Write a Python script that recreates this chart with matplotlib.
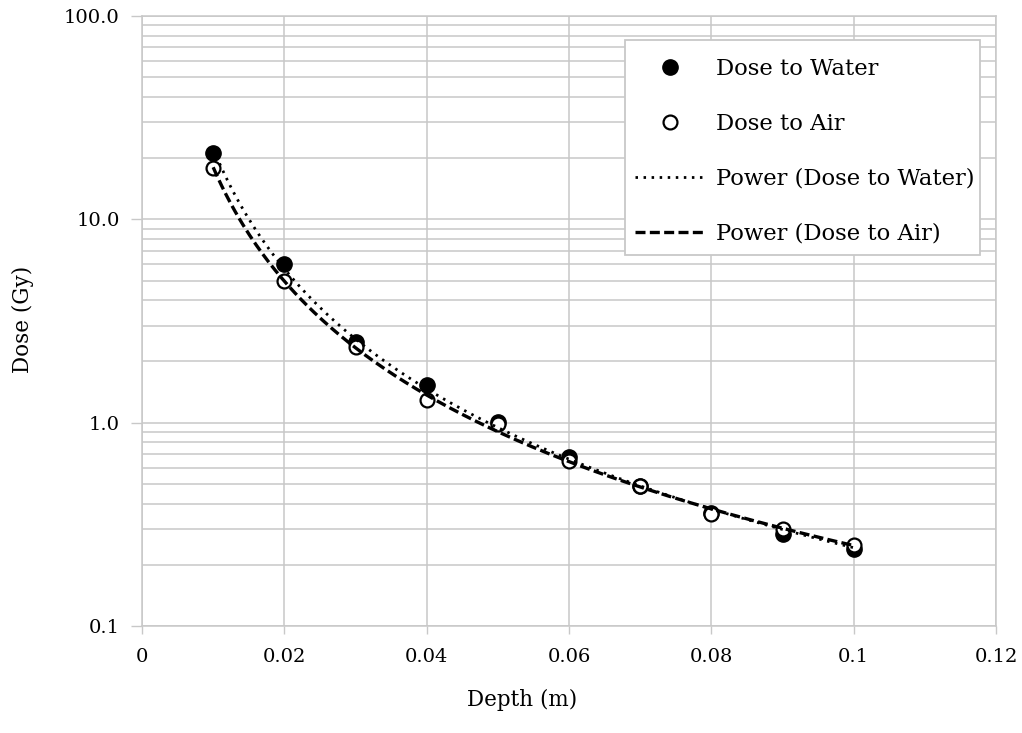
import numpy as np
import matplotlib
matplotlib.use("Agg")
import matplotlib.pyplot as plt
from matplotlib.patches import Rectangle
from matplotlib.ticker import FixedLocator, LogLocator, NullFormatter

# ---- data ----
depth = [0.01, 0.02, 0.03, 0.04, 0.05, 0.06, 0.07, 0.08, 0.09, 0.10]
dose_water = [21.1, 6.0, 2.50, 1.53, 1.01, 0.68, 0.49, 0.36, 0.285, 0.24]
dose_air = [17.8, 5.0, 2.36, 1.29, 0.99, 0.65, 0.49, 0.355, 0.30, 0.25]
x_ticks = [0, 0.02, 0.04, 0.06, 0.08, 0.1, 0.12]
x_tick_labels = ["0", "0.02", "0.04", "0.06", "0.08", "0.1", "0.12"]
y_ticks = [0.1, 1.0, 10.0, 100.0]
y_tick_labels = ["0.1", "1.0", "10.0", "100.0"]

plt.rcParams['font.family'] = ['DejaVu Serif']
GRID = '#c8c8c8'
W, H = 1022, 733

fig = plt.figure(figsize=(W/100, H/100), dpi=100)
ax = fig.add_axes([142/W, 1-626/H, (996-142)/W, (626-16)/H])

ax.set_yscale('log')
ax.set_xlim(0, 0.12)
ax.set_ylim(0.1, 100)

# power trendlines (least-squares fit in log-log space)
def power_fit(x, y):
    b, loga = np.polyfit(np.log(x), np.log(y), 1)
    return np.exp(loga), b

xs = np.linspace(min(depth), max(depth), 300)
aw, bw = power_fit(np.array(depth), np.array(dose_water))
aa, ba = power_fit(np.array(depth), np.array(dose_air))

ax.plot(depth, dose_water, 'o', color='black', markersize=11, zorder=3,
        label='Dose to Water')
ax.plot(depth, dose_air, 'o', markerfacecolor='white', markeredgecolor='black',
        markeredgewidth=1.6, markersize=10, zorder=4, label='Dose to Air')
ax.plot(xs, aw * xs ** bw, color='black', lw=2.0, linestyle=(0, (0.9, 2.0)),
        zorder=5, label='Power (Dose to Water)')
ax.plot(xs, aa * xs ** ba, color='black', lw=2.4, linestyle=(0, (3.0, 1.3)),
        zorder=5, label='Power (Dose to Air)')

# ticks and grid
ax.xaxis.set_major_locator(FixedLocator(x_ticks))
ax.set_xticklabels(x_tick_labels)
ax.yaxis.set_major_locator(FixedLocator(y_ticks))
ax.set_yticklabels(y_tick_labels)
ax.yaxis.set_minor_locator(LogLocator(base=10, subs=np.arange(2, 10)))
ax.yaxis.set_minor_formatter(NullFormatter())
ax.tick_params(axis='y', which='minor', length=0)
ax.tick_params(axis='y', which='major', length=8, width=1.0, color=GRID,
               pad=8, labelsize=14)
ax.tick_params(axis='x', which='major', length=6, width=1.0, color=GRID,
               pad=10, labelsize=14)
ax.grid(True, which='both', axis='y', color=GRID, lw=1.1)
ax.grid(True, which='major', axis='x', color=GRID, lw=1.1)
ax.set_axisbelow(True)
for s in ax.spines.values():
    s.set_color(GRID)
    s.set_linewidth(1.1)

fig.text(522/W, 1-700/H, 'Depth (m)', ha='center', va='center', fontsize=15.5)
fig.text(23/W, 1-319/H, 'Dose (Gy)', ha='center', va='center',
         rotation=90, fontsize=15.5)

# legend box drawn separately (Excel-style asymmetric padding)
box = Rectangle((625/W, 1-255/H), (980-625)/W, (255-40)/H,
                transform=fig.transFigure, facecolor='white', edgecolor=GRID,
                linewidth=1.3, zorder=6, clip_on=False)
ax.add_artist(box)

leg = ax.legend(loc='upper left', bbox_to_anchor=(625/W, 1-48/H),
                bbox_transform=fig.transFigure, fontsize=16.3, frameon=False,
                handlelength=3.1, handletextpad=0.45, labelspacing=1.45,
                borderpad=0.45, borderaxespad=0)
leg.set_zorder(7)

fig.savefig('out.png', dpi=100)
